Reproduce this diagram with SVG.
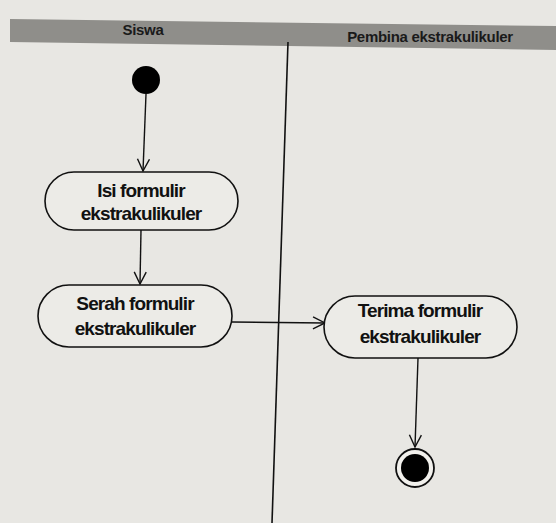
<svg xmlns="http://www.w3.org/2000/svg" width="556" height="523" viewBox="0 0 556 523">
<defs>
<style>
.bg{fill:#e8e7e3}
.band{fill:#8f8e8a}
.hdr{font-family:"Liberation Sans",Arial,sans-serif;font-weight:bold;font-size:15px;fill:#1a1a1a;text-anchor:middle;letter-spacing:-0.3px}
.lane{stroke:#111;stroke-width:1.6;fill:none}
.act{fill:#ecebe7;stroke:#111;stroke-width:1.6}
.lbl{font-family:"Liberation Sans",Arial,sans-serif;font-weight:bold;font-size:19px;fill:#111;text-anchor:middle;letter-spacing:-0.9px}
.edge{stroke:#111;stroke-width:1.4;fill:none}
</style>
<marker id="open" viewBox="0 0 14 14" refX="13" refY="7" markerWidth="14" markerHeight="14" markerUnits="userSpaceOnUse" orient="auto">
<path d="M1,1 L13,7 L1,13" fill="none" stroke="#111" stroke-width="1.4"/>
</marker>
</defs>
<rect class="bg" x="0" y="0" width="556" height="523"/>
<g id="header">
<polygon class="band" points="10,19 556,26 556,50 10,42"/>
<text class="hdr" x="143" y="35">Siswa</text>
<text class="hdr" x="430" y="42">Pembina ekstrakulikuler</text>
</g>
<g id="lanes">
<line class="lane" x1="288" y1="42" x2="272" y2="523"/>
</g>
<g id="connectors">
<path class="edge" d="M146,94 L143,171" marker-end="url(#open)"/>
<path class="edge" d="M141,230 L140,284" marker-end="url(#open)"/>
<path class="edge" d="M232,322 L325,323" marker-end="url(#open)"/>
<path class="edge" d="M418,358 L415,447" marker-end="url(#open)"/>
</g>
<g id="start">
<circle cx="146" cy="80" r="14" fill="#000"/>
</g>
<g id="isi">
<rect class="act" x="45" y="172" width="193" height="58" rx="29" ry="29"/>
<text class="lbl" x="141" y="197">Isi formulir</text>
<text class="lbl" x="141" y="220">ekstrakulikuler</text>
</g>
<g id="serah">
<rect class="act" x="38" y="285" width="194" height="62" rx="31" ry="31"/>
<text class="lbl" x="135" y="310">Serah formulir</text>
<text class="lbl" x="135" y="335">ekstrakulikuler</text>
</g>
<g id="terima">
<rect class="act" x="324" y="296" width="193" height="62" rx="31" ry="31"/>
<text class="lbl" x="420" y="317">Terima formulir</text>
<text class="lbl" x="420" y="343">ekstrakulikuler</text>
</g>
<g id="end">
<circle cx="415" cy="468" r="19" fill="#f2f1ed" stroke="#111" stroke-width="1.8"/>
<circle cx="415" cy="468" r="14" fill="#000"/>
</g>
</svg>
